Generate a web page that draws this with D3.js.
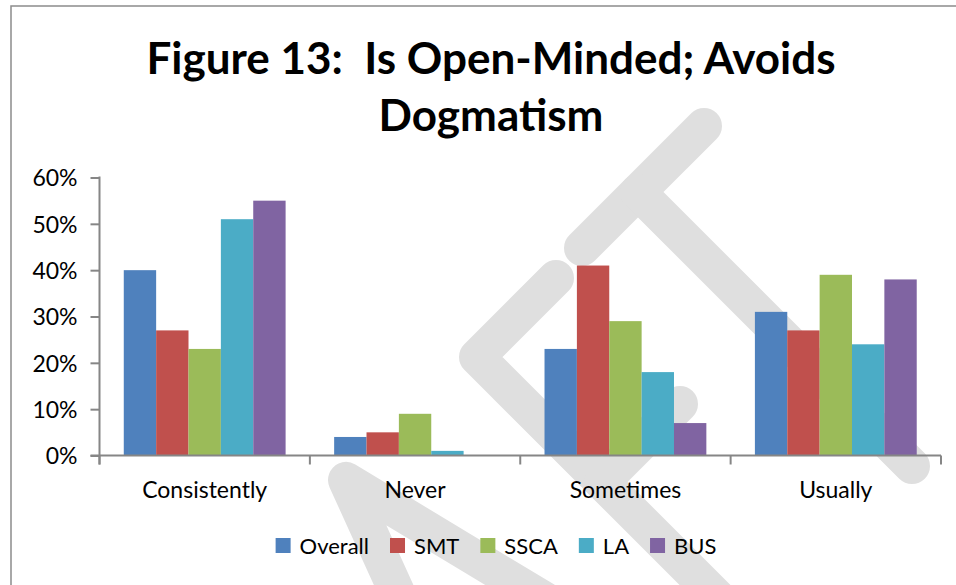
<!DOCTYPE html>
<html lang="en">
<head>
<meta charset="utf-8">
<title>Figure 13: Is Open-Minded; Avoids Dogmatism</title>
<script src="https://cdn.jsdelivr.net/npm/d3@7"></script>
<style>
body{margin:0;background:#fff;}
svg{display:block;font-family:Lato, "Open Sans", sans-serif;}
</style>
</head>
<body>
<div id="chart"></div>
<script>
// data
var categories = ["Consistently", "Never", "Sometimes", "Usually"]
var seriesNames = ["Overall", "SMT", "SSCA", "LA", "BUS"]
var overall = [0.40, 0.04, 0.23, 0.31]
var smt     = [0.27, 0.05, 0.41, 0.27]
var ssca    = [0.23, 0.09, 0.29, 0.39]
var la      = [0.51, 0.01, 0.18, 0.24]
var bus     = [0.55, 0.00, 0.07, 0.38]
var yTicks = [0, 0.1, 0.2, 0.3, 0.4, 0.5, 0.6]
var titleLines = ["Figure 13:  Is Open-Minded; Avoids", "Dogmatism"]

var seriesValues = [overall, smt, ssca, la, bus]
var colors = ["#4f81bd", "#c0504d", "#9bbb59", "#4bacc6", "#8064a2"]

drawChart()

function drawChart(){
    var w = 956, h = 585
    var axisColor = "#868686"
    var plotLeft = 99.5, plotRight = 941, plotTop = 177.5, plotBottom = 455.5
    var fontSize = "23px"

    var svg = d3.select("#chart").append("svg")
        .attr("width", w)
        .attr("height", h)

    // background + outer frame
    svg.append("rect").attr("width", w).attr("height", h).attr("fill", "#fff")
    svg.append("rect")
        .attr("x", 11).attr("y", 6)
        .attr("width", w + 20).attr("height", h + 20)
        .attr("fill", "none")
        .attr("stroke", "#8c8c8c")
        .attr("stroke-width", 1.5)

    // grey "DRAFT" watermark pieces (only what shows in this crop)
    var watermark = [
        [[582, 248], [704, 126]],             // T bar
        [[638, 192], [912, 466]],             // T stem
        [[556, 278], [477, 357], [740, 620]], // F top bar + stem
        [[602, 482], [680, 404]],             // F middle arm
        [[405, 610], [346, 480], [545, 600]]  // A apex and legs
    ]
    svg.append("g").selectAll("path")
        .data(watermark)
        .enter()
        .append("path")
        .attr("d", d3.line())
        .attr("fill", "none")
        .attr("stroke", "#dfdfdf")
        .attr("stroke-width", 36)
        .attr("stroke-linecap", "round")
        .attr("stroke-linejoin", "round")

    // scales
    var xScale = d3.scaleBand().domain(categories).range([plotLeft, plotRight])
    var sScale = d3.scaleBand().domain(seriesNames).range([0, xScale.bandwidth()])
        .paddingInner(0).paddingOuter(0.75)
    var yScale = d3.scaleLinear().domain([0, 0.6]).range([plotBottom, plotTop])

    // bars
    seriesValues.forEach(function(vals, si){
        svg.append("g").selectAll("rect")
            .data(vals)
            .enter()
            .append("rect")
            .attr("x", function(d, i){ return xScale(categories[i]) + sScale(seriesNames[si]) })
            .attr("y", function(d){ return yScale(d) })
            .attr("width", sScale.bandwidth())
            .attr("height", function(d){ return plotBottom - yScale(d) })
            .attr("fill", colors[si])
    })

    // y axis
    var yAxis = d3.axisLeft(yScale)
        .tickValues(yTicks)
        .tickFormat(d3.format(".0%"))
        .tickSize(9)
        .tickPadding(13)
    var gy = svg.append("g").attr("transform", "translate(" + plotLeft + ",0)").call(yAxis)
    gy.attr("font-family", null).attr("font-size", null)
    gy.select(".domain").attr("stroke", axisColor).attr("stroke-width", 2)
        .attr("d", "M0," + (plotTop - 1) + "V" + (plotBottom + 9))
    gy.selectAll(".tick line").attr("stroke", axisColor).attr("stroke-width", 2)
    gy.selectAll(".tick text")
        .attr("fill", "#000")
        .style("font-size", fontSize)
        .attr("dy", "0.36em")

    // x axis: ticks on the category boundaries
    var boundaries = categories.map(function(c){ return xScale(c) }).concat([plotRight])
    var gx = svg.append("g")
    gx.append("line")
        .attr("x1", plotLeft - 9).attr("x2", plotRight)
        .attr("y1", plotBottom).attr("y2", plotBottom)
        .attr("stroke", axisColor).attr("stroke-width", 2)
    gx.selectAll(".btick")
        .data(boundaries)
        .enter()
        .append("line")
        .attr("class", "btick")
        .attr("x1", function(d){ return d }).attr("x2", function(d){ return d })
        .attr("y1", plotBottom).attr("y2", plotBottom + 9)
        .attr("stroke", axisColor).attr("stroke-width", 2)
    gx.selectAll(".clabel")
        .data(categories)
        .enter()
        .append("text")
        .attr("class", "clabel")
        .attr("x", function(d){ return xScale(d) + xScale.bandwidth() / 2 })
        .attr("y", 498)
        .attr("text-anchor", "middle")
        .style("font-size", fontSize)
        .text(function(d){ return d })

    // title
    svg.append("g").selectAll("text")
        .data(titleLines)
        .enter()
        .append("text")
        .attr("x", 491)
        .attr("y", function(d, i){ return 74 + i * 57 })
        .attr("text-anchor", "middle")
        .style("font-size", "44px")
        .style("font-weight", "bold")
        .style("white-space", "pre")
        .text(function(d){ return d })

    // legend, laid out from measured text widths
    var legend = svg.append("g")
    var lx = 0
    seriesNames.forEach(function(name, i){
        var item = legend.append("g").attr("transform", "translate(" + lx + ",0)")
        item.append("rect")
            .attr("x", 0).attr("y", 538)
            .attr("width", 15).attr("height", 15)
            .attr("fill", colors[i])
        var t = item.append("text")
            .attr("x", 24).attr("y", 554)
            .style("font-size", "22px")
            .text(name)
        lx += 24 + t.node().getComputedTextLength() + 21
    })
    var legendWidth = lx - 21
    legend.attr("transform", "translate(" + (496 - legendWidth / 2) + ",0)")
}
</script>
</body>
</html>
